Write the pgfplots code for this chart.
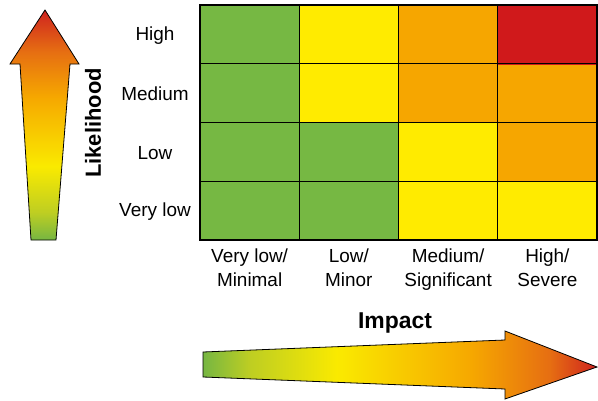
\documentclass[border=0pt]{standalone}
\usepackage{fontspec}
\setmainfont{Liberation Sans}
\usepackage{pgfplots}
\pgfplotsset{compat=1.18}

% risk levels: 0 green, 1 yellow, 2 orange, 3 red
\pgfplotsset{colormap={risk}{rgb255=(118,184,67) rgb255=(255,235,0) rgb255=(246,166,0) rgb255=(208,25,27)}}

\definecolor{sgreen}{RGB}{118,182,66}
\definecolor{slime}{RGB}{190,206,34}
\definecolor{syellow}{RGB}{250,234,0}
\definecolor{sorange}{RGB}{246,168,0}
\definecolor{sdorange}{RGB}{230,110,18}
\definecolor{sred}{RGB}{207,35,31}

% shadings for the two arrows (path box maps to 25bp..75bp)
\pgfdeclareverticalshading{likelihood}{100bp}{%
  color(0bp)=(sgreen); color(25bp)=(sgreen); color(31bp)=(slime);
  color(41bp)=(syellow); color(56bp)=(sorange); color(66bp)=(sdorange);
  color(75bp)=(sred); color(100bp)=(sred)}
\pgfdeclarehorizontalshading{impact}{100bp}{%
  color(0bp)=(sgreen); color(25bp)=(sgreen); color(31bp)=(slime);
  color(42bp)=(syellow); color(59bp)=(sorange); color(69bp)=(sdorange);
  color(75bp)=(sred); color(100bp)=(sred)}

\pgfplotstableread{
x y c
0 0 0
1 0 0
2 0 1
3 0 1

0 1 0
1 1 0
2 1 1
3 1 2

0 2 0
1 2 1
2 2 2
3 2 2

0 3 0
1 3 1
2 3 2
3 3 3
}\riskgrid

\begin{document}
\begin{tikzpicture}
\useasboundingbox (0,0) rectangle (598bp,-401bp);

\begin{axis}[
    at={(200bp,-240bp)}, anchor=south west,
    scale only axis, width=397bp, height=235bp,
    xmin=-0.5, xmax=3.5, ymin=-0.5, ymax=3.5,
    xtick={0,1,2,3}, ytick={0,1,2,3},
    minor xtick={0.5,1.5,2.5}, minor ytick={0.5,1.5,2.5},
    major tick length=0pt, minor tick length=0pt,
    grid=minor, minor grid style={black, line width=0.8bp},
    axis on top,
    axis line style={black, line width=1.3bp},
    xticklabels={{Very low/\\Minimal},{Low/\\Minor},{Medium/\\Significant},{High/\\Severe}},
    yticklabels={Very low,Low,Medium,High},
    ticklabel style={font=\fontsize{19}{24}\selectfont},
    xticklabel style={align=center, yshift=-5bp},
    yticklabel style={anchor=center, xshift=-45bp, yshift=-1bp},
    colormap name=risk,
    colormap access=direct,
]
\addplot[matrix plot*, mesh/cols=4, point meta=explicit] table[x=x, y=y, meta=c] {\riskgrid};
\end{axis}

\begin{scope}[x=1bp, y=-1bp]
  \draw[black, line width=0.8bp, shading=likelihood]
    (45,10) -- (79,64) -- (70,64) -- (56,240) -- (31,240) -- (20,64) -- (10,64) -- cycle;
  \draw[black, line width=0.8bp, shading=impact]
    (203,352) -- (505,340) -- (505,331) -- (597,367) -- (505,399) -- (505,389) -- (203,377) -- cycle;
  \node[rotate=90, font=\fontsize{22}{26}\selectfont\bfseries] at (93,123) {Likelihood};
  \node[font=\fontsize{23}{27}\selectfont\bfseries] at (395,323) {Impact};
\end{scope}
\end{tikzpicture}
\end{document}
